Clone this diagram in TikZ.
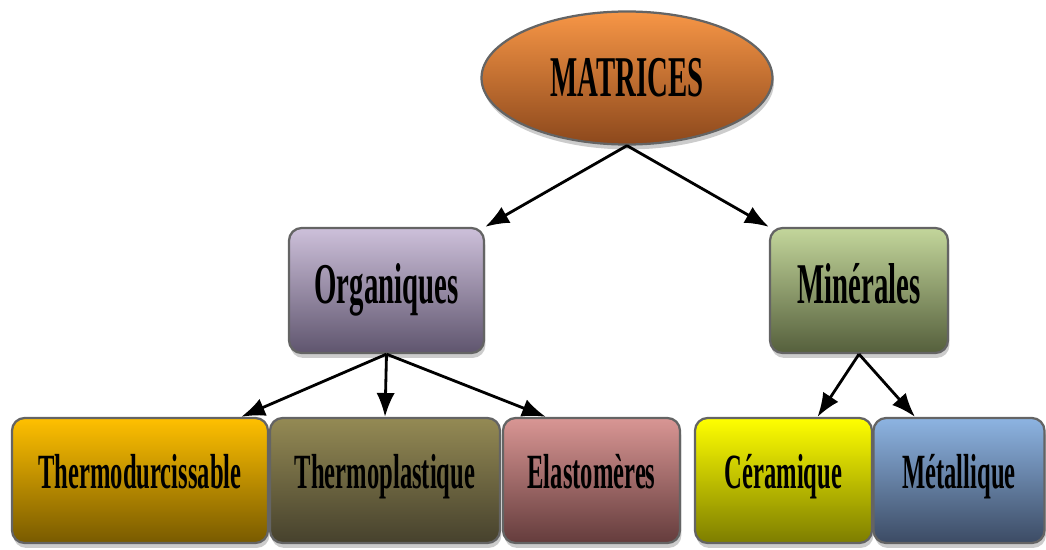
\documentclass[tikz,border=0pt]{standalone}
\usepackage{fontspec}
\setmainfont{Liberation Serif}[FakeStretch=0.5]
\usepackage{xcolor}
\usetikzlibrary{shapes.geometric, shadows, arrows.meta}

\definecolor{orangehaut}{RGB}{247,150,70}
\definecolor{orangebas}{RGB}{140,72,28}
\definecolor{lilashaut}{RGB}{205,192,218}
\definecolor{lilasbas}{RGB}{95,85,110}
\definecolor{verthaut}{RGB}{195,214,155}
\definecolor{vertbas}{RGB}{85,95,60}
\definecolor{jaunehaut}{RGB}{255,192,0}
\definecolor{jaunebas}{RGB}{120,90,0}
\definecolor{kakihaut}{RGB}{148,138,84}
\definecolor{kakibas}{RGB}{70,65,45}
\definecolor{rosehaut}{RGB}{217,150,148}
\definecolor{rosebas}{RGB}{100,60,60}
\definecolor{citronhaut}{RGB}{255,255,0}
\definecolor{citronbas}{RGB}{125,125,0}
\definecolor{bleuhaut}{RGB}{141,180,226}
\definecolor{bleubas}{RGB}{60,75,100}
\definecolor{bord}{RGB}{100,100,100}

\begin{document}
\begin{tikzpicture}[
  ombre/.style={drop shadow={opacity=0.4, shadow xshift=1pt, shadow yshift=-3.5pt}},
  boite/.style={rectangle, rounded corners=9pt, draw=bord, line width=1.6pt, minimum height=3.125cm, inner sep=0pt, font=\bfseries\fontsize{35}{40}\selectfont, text height=24pt, text depth=12pt, ombre},
  fleche/.style={-{Latex[length=17pt,width=13pt]}, line width=2pt}
]
\useasboundingbox (0,0) rectangle (26.15,13.725);
% racine
\node [ellipse, draw=bord, line width=1.6pt, ombre, top color=orangehaut, bottom color=orangebas, minimum width=7.275cm, minimum height=3.325cm, inner sep=0pt, font=\bfseries\fontsize{41}{46}\selectfont] (mat) at (15.675, 11.775) {MATRICES};
% deuxieme niveau
\node [boite, top color=lilashaut, bottom color=lilasbas, minimum width=4.875cm, font=\bfseries\fontsize{41}{46}\selectfont, text height=28pt, text depth=9pt] (org) at (9.6625, 6.4625) {Organiques};
\node [boite, top color=verthaut, bottom color=vertbas, minimum width=4.45cm, font=\bfseries\fontsize{41}{46}\selectfont, text height=28pt, text depth=9pt] (min) at (21.475, 6.4625) {Minérales};
% troisieme niveau
\node [boite, top color=jaunehaut, bottom color=jaunebas, minimum width=6.4cm] (tdu) at (3.5, 1.7125) {Thermodurcissable};
\node [boite, top color=kakihaut, bottom color=kakibas, minimum width=5.75cm] (tpl) at (9.625, 1.7125) {Thermoplastique};
\node [boite, top color=rosehaut, bottom color=rosebas, minimum width=4.425cm] (ela) at (14.7875, 1.7125) {Elastomères};
\node [boite, top color=citronhaut, bottom color=citronbas, minimum width=4.425cm] (cer) at (19.5875, 1.7125) {Céramique};
\node [boite, top color=bleuhaut, bottom color=bleubas, minimum width=4.275cm] (met) at (23.975, 1.7125) {Métallique};
% fleches
\draw [fleche] (mat.south) -- (org.north east);
\draw [fleche] (mat.south) -- (min.north west);
\draw [fleche] (org.south) -- ([xshift=-0.7cm]tdu.north east);
\draw [fleche] (org.south) -- (tpl.north);
\draw [fleche] (org.south) -- ([xshift=1.1cm]ela.north west);
\draw [fleche] (min.south) -- ([xshift=0.85cm]cer.north);
\draw [fleche] (min.south) -- ([xshift=-1.1cm]met.north);
\end{tikzpicture}
\end{document}
